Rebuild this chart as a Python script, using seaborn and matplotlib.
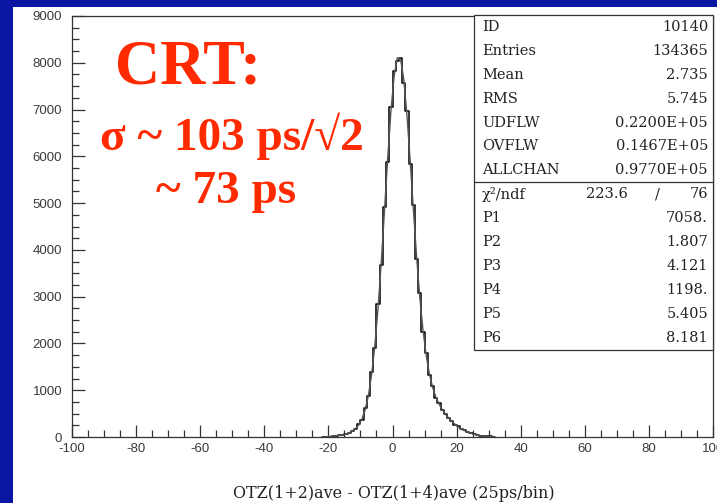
import numpy as np
import pandas as pd
import matplotlib
matplotlib.use("Agg")
import matplotlib.pyplot as plt
import seaborn as sns
from matplotlib.patches import Rectangle
from matplotlib.ticker import MultipleLocator

# ---- data ----
bin_edges = list(range(-22, 33))
bin_centers = [e + 0.5 for e in range(-22, 32)]
hist_counts = [4, 9, 10, 19, 22, 36, 44, 70, 86, 135, 172, 281, 372, 615, 870,
               1390, 1905, 2840, 3680, 4920, 5870, 7050, 7820, 8040, 8110, 7560,
               6960, 5830, 4950, 3800, 3070, 2240, 1790, 1320, 1090, 840, 720,
               575, 500, 398, 342, 265, 225, 168, 139, 100, 82, 56, 45, 29, 23,
               14, 12, 6]
fit_values = [5, 8, 12, 17, 24, 33, 47, 65, 90, 126, 180, 263, 391, 592, 896,
              1341, 1959, 2764, 3742, 4839, 5954, 6958, 7712, 8107, 8084, 7653,
              6892, 5922, 4878, 3877, 3002, 2293, 1750, 1352, 1067, 860, 707,
              588, 490, 407, 335, 273, 218, 173, 135, 104, 79, 59, 43, 31, 22,
              16, 11, 7]
x_ticks = [-100, -80, -60, -40, -20, 0, 20, 40, 60, 80, 100]
y_ticks = [0, 1000, 2000, 3000, 4000, 5000, 6000, 7000, 8000, 9000]
stat_labels = ["ID", "Entries", "Mean", "RMS", "UDFLW", "OVFLW", "ALLCHAN"]
stat_values = ["10140", "134365", "2.735", "5.745", "0.2200E+05", "0.1467E+05", "0.9770E+05"]
fit_labels = ["P1", "P2", "P3", "P4", "P5", "P6"]
fit_params = ["7058.", "1.807", "4.121", "1198.", "5.405", "8.181"]
chi2_value = "223.6"
ndf_value = "76"
x_label = "OTZ(1+2)ave - OTZ(1+4)ave (25ps/bin)"

df_hist = pd.DataFrame({"x": bin_centers, "w": hist_counts})
df_fit = pd.DataFrame({"x": bin_centers, "y": fit_values})

W, H = 717, 503
BLUE = "#0a16a2"
RED = "#ff2a00"

sns.set_style("white")
fig = plt.figure(figsize=(W / 100, H / 100), dpi=100, facecolor=BLUE)

def fx(px):
    return px / W

def fy(py):
    return 1 - py / H

# white slide panel
fig.patches.append(Rectangle((fx(13), 0), 1, fy(7), transform=fig.transFigure,
                             facecolor="white", edgecolor="none", zorder=-10))

ax_l, ax_r, ax_t, ax_b = 72, 713, 16, 437
ax = fig.add_axes([fx(ax_l), fy(ax_b), fx(ax_r - ax_l), (ax_b - ax_t) / H])
ax.set_facecolor("none")
ax.set_zorder(1)

sns.histplot(data=df_hist, x="x", weights="w", bins=bin_edges, element="step",
             fill=False, color="black", linewidth=1.1, ax=ax)
sns.lineplot(data=df_fit, x="x", y="y", color="#555555", linewidth=1.0, ax=ax)

ax.set_xlim(-100, 100)
ax.set_ylim(0, 9000)
ax.set_xticks(x_ticks)
ax.set_yticks(y_ticks)
ax.set_xticklabels([str(t) for t in x_ticks])
ax.set_yticklabels([str(t) for t in y_ticks])
ax.xaxis.set_minor_locator(MultipleLocator(5))
ax.yaxis.set_minor_locator(MultipleLocator(250))
ax.tick_params(axis="both", which="major", direction="in", length=9, width=0.9,
               color="#333333", labelsize=9.5, labelcolor="#3a3a3a")
ax.tick_params(axis="both", which="minor", direction="in", length=5, width=0.9,
               color="#333333")
ax.tick_params(axis="x", which="both", top=False, bottom=True, pad=4)
ax.tick_params(axis="y", which="both", right=False, left=True, pad=7)
for lab in ax.get_xticklabels() + ax.get_yticklabels():
    lab.set_family(["Liberation Sans", "DejaVu Sans"])
ax.set_xlabel("")
ax.set_ylabel("")
for s in ax.spines.values():
    s.set_visible(True)
    s.set_color("#333333")
    s.set_linewidth(0.9)

serif = ["DejaVu Serif", "Liberation Serif"]
fig.text(fx(394), fy(493), x_label, ha="center", va="center", fontsize=11.5,
         family=serif, color="#222222")

# stats box
bx_l, bx_r, bx_t = 474, 713, 15
row_h = 23.9
n_rows = len(stat_labels) + 1 + len(fit_labels)
bx_b = bx_t + row_h * n_rows
box = Rectangle((fx(bx_l), fy(bx_b)), fx(bx_r - bx_l), (bx_b - bx_t) / H,
                transform=fig.transFigure, facecolor="white",
                edgecolor="#333333", linewidth=0.9, zorder=5)
fig.patches.append(box)
div_y = bx_t + row_h * len(stat_labels)
fig.lines.append(plt.Line2D([fx(bx_l), fx(bx_r)], [fy(div_y), fy(div_y)],
                            transform=fig.transFigure, color="#333333",
                            linewidth=0.9, zorder=6))
tkw = dict(fontsize=10.5, family=serif, color="#222222", va="center", zorder=7)
for i, (lab, val) in enumerate(zip(stat_labels, stat_values)):
    yc = bx_t + row_h * (i + 0.5)
    fig.text(fx(482), fy(yc), lab, ha="left", **tkw)
    fig.text(fx(708), fy(yc), val, ha="right", **tkw)
yc = div_y + row_h * 0.5
fig.text(fx(482), fy(yc), "χ²/ndf", ha="left", **tkw)
fig.text(fx(628), fy(yc), chi2_value, ha="right", **tkw)
fig.text(fx(657), fy(yc), "/", ha="center", **tkw)
fig.text(fx(708), fy(yc), ndf_value, ha="right", **tkw)
for i, (lab, val) in enumerate(zip(fit_labels, fit_params)):
    yc = div_y + row_h * (i + 1.5)
    fig.text(fx(482), fy(yc), lab, ha="left", **tkw)
    fig.text(fx(708), fy(yc), val, ha="right", **tkw)

# red annotation
rserif = ["Liberation Serif", "DejaVu Serif"]
rkw = dict(family=rserif, color=RED, weight="bold", ha="center", va="center")
fig.text(fx(188), fy(68), "CRT:", fontsize=45, **rkw)
fig.text(fx(232), fy(136), "σ ~ 103 ps/√2", fontsize=34, **rkw)
fig.text(fx(226), fy(192), "~ 73 ps", fontsize=34, **rkw)

fig.savefig("out.png", dpi=100, facecolor=BLUE)
